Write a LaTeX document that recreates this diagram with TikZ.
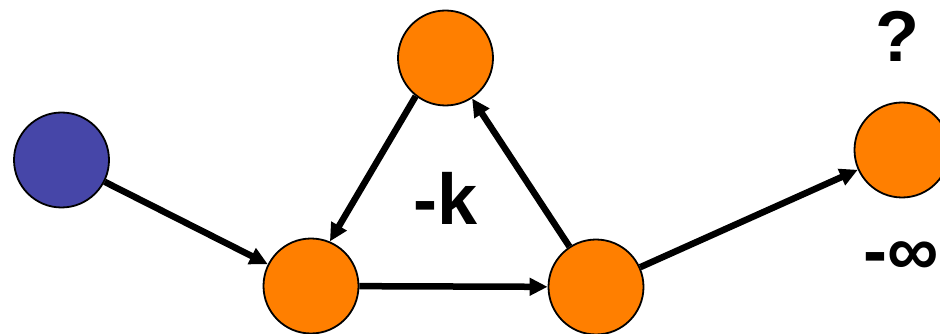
\documentclass[tikz,border=0pt]{standalone}
\usepackage{fontspec}
\setmainfont{Liberation Sans}
\usetikzlibrary{arrows.meta}
\definecolor{nodeorange}{HTML}{FF7F00}
\definecolor{nodeblue}{HTML}{4646A8}
\begin{document}
\begin{tikzpicture}[x=1pt,y=-1pt,
  vtx/.style={circle,draw=black,line width=1.8pt,minimum size=95pt,inner sep=0pt},
  orangevtx/.style={vtx,fill=nodeorange},
  bluevtx/.style={vtx,fill=nodeblue},
  edge/.style={line width=6.5pt,-{Triangle[length=18pt,width=17pt]}},
  lbl/.style={font=\fontsize{72}{72}\selectfont\bfseries,inner sep=0pt}]
\clip (0,0) rectangle (940,334);
\useasboundingbox (0,0) rectangle (940,334);
\node[bluevtx] (s) at (61.5,160) {};
\node[orangevtx] (t) at (445.5,58) {};
\node[orangevtx] (a) at (311,286) {};
\node[orangevtx] (b) at (596,287) {};
\node[orangevtx] (r) at (902,150) {};
\draw[edge] (s) -- (a);
\draw[edge] (t.232) -- (a.67);
\draw[edge] (b) -- (t);
\draw[edge] (a) -- (b);
\draw[edge] (b) -- (r);
\node[lbl] (q) at (897,36) {?};
\node[lbl] (k) at (446,198) {-k};
\node[lbl] (inf) at (901,259) {-∞};
\end{tikzpicture}
\end{document}
